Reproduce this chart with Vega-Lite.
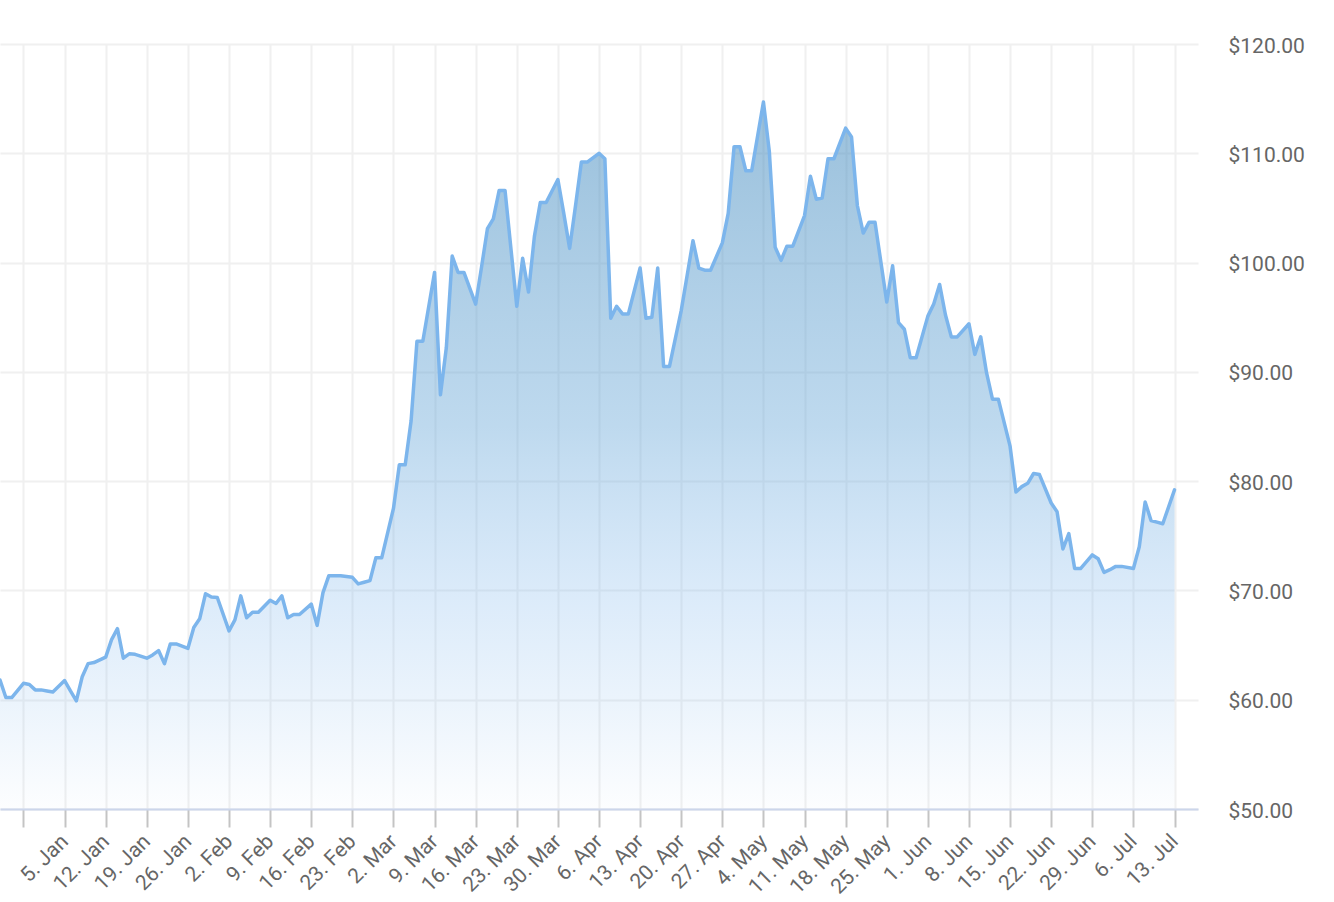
{
  "$schema": "https://vega.github.io/schema/vega-lite/v6.json",
  "width": 1198,
  "height": 765,
  "autosize": {"type": "none"},
  "padding": {"left": 0, "top": 44, "right": 136, "bottom": 93},
  "background": "#ffffff",
  "data": {
    "values": [
      {"date": "2025-12-25", "price": 61.8},
      {"date": "2025-12-26", "price": 60.2},
      {"date": "2025-12-27", "price": 60.2},
      {"date": "2025-12-29", "price": 61.5},
      {"date": "2025-12-30", "price": 61.4},
      {"date": "2025-12-31", "price": 60.9},
      {"date": "2026-01-01", "price": 60.9},
      {"date": "2026-01-02", "price": 60.8},
      {"date": "2026-01-03", "price": 60.7},
      {"date": "2026-01-05", "price": 61.75},
      {"date": "2026-01-06", "price": 60.8},
      {"date": "2026-01-07", "price": 59.9},
      {"date": "2026-01-08", "price": 62.1},
      {"date": "2026-01-09", "price": 63.3},
      {"date": "2026-01-10", "price": 63.4},
      {"date": "2026-01-12", "price": 63.9},
      {"date": "2026-01-13", "price": 65.5},
      {"date": "2026-01-14", "price": 66.5},
      {"date": "2026-01-15", "price": 63.8},
      {"date": "2026-01-16", "price": 64.2},
      {"date": "2026-01-17", "price": 64.15},
      {"date": "2026-01-19", "price": 63.8},
      {"date": "2026-01-20", "price": 64.1},
      {"date": "2026-01-21", "price": 64.5},
      {"date": "2026-01-22", "price": 63.3},
      {"date": "2026-01-23", "price": 65.1},
      {"date": "2026-01-24", "price": 65.1},
      {"date": "2026-01-26", "price": 64.7},
      {"date": "2026-01-27", "price": 66.6},
      {"date": "2026-01-28", "price": 67.4},
      {"date": "2026-01-29", "price": 69.7},
      {"date": "2026-01-30", "price": 69.4},
      {"date": "2026-01-31", "price": 69.35},
      {"date": "2026-02-02", "price": 66.3},
      {"date": "2026-02-03", "price": 67.3},
      {"date": "2026-02-04", "price": 69.5},
      {"date": "2026-02-05", "price": 67.5},
      {"date": "2026-02-06", "price": 68.0},
      {"date": "2026-02-07", "price": 68.0},
      {"date": "2026-02-09", "price": 69.1},
      {"date": "2026-02-10", "price": 68.8},
      {"date": "2026-02-11", "price": 69.5},
      {"date": "2026-02-12", "price": 67.5},
      {"date": "2026-02-13", "price": 67.8},
      {"date": "2026-02-14", "price": 67.8},
      {"date": "2026-02-16", "price": 68.75},
      {"date": "2026-02-17", "price": 66.8},
      {"date": "2026-02-18", "price": 69.8},
      {"date": "2026-02-19", "price": 71.35},
      {"date": "2026-02-20", "price": 71.35},
      {"date": "2026-02-21", "price": 71.35},
      {"date": "2026-02-23", "price": 71.2},
      {"date": "2026-02-24", "price": 70.6},
      {"date": "2026-02-25", "price": 70.75},
      {"date": "2026-02-26", "price": 70.9},
      {"date": "2026-02-27", "price": 72.98},
      {"date": "2026-02-28", "price": 72.98},
      {"date": "2026-03-02", "price": 77.5},
      {"date": "2026-03-03", "price": 81.5},
      {"date": "2026-03-04", "price": 81.5},
      {"date": "2026-03-05", "price": 85.5},
      {"date": "2026-03-06", "price": 92.8},
      {"date": "2026-03-07", "price": 92.8},
      {"date": "2026-03-09", "price": 99.1},
      {"date": "2026-03-10", "price": 87.9},
      {"date": "2026-03-11", "price": 92.2},
      {"date": "2026-03-12", "price": 100.6},
      {"date": "2026-03-13", "price": 99.1},
      {"date": "2026-03-14", "price": 99.1},
      {"date": "2026-03-16", "price": 96.2},
      {"date": "2026-03-17", "price": 99.6},
      {"date": "2026-03-18", "price": 103.1},
      {"date": "2026-03-19", "price": 104.0},
      {"date": "2026-03-20", "price": 106.6},
      {"date": "2026-03-21", "price": 106.6},
      {"date": "2026-03-23", "price": 96.0},
      {"date": "2026-03-24", "price": 100.4},
      {"date": "2026-03-25", "price": 97.3},
      {"date": "2026-03-26", "price": 102.4},
      {"date": "2026-03-27", "price": 105.5},
      {"date": "2026-03-28", "price": 105.5},
      {"date": "2026-03-30", "price": 107.6},
      {"date": "2026-03-31", "price": 104.5},
      {"date": "2026-04-01", "price": 101.3},
      {"date": "2026-04-02", "price": 105.2},
      {"date": "2026-04-03", "price": 109.2},
      {"date": "2026-04-04", "price": 109.2},
      {"date": "2026-04-06", "price": 110.0},
      {"date": "2026-04-07", "price": 109.5},
      {"date": "2026-04-08", "price": 94.9},
      {"date": "2026-04-09", "price": 96.0},
      {"date": "2026-04-10", "price": 95.3},
      {"date": "2026-04-11", "price": 95.3},
      {"date": "2026-04-13", "price": 99.5},
      {"date": "2026-04-14", "price": 94.9},
      {"date": "2026-04-15", "price": 95.0},
      {"date": "2026-04-16", "price": 99.5},
      {"date": "2026-04-17", "price": 90.5},
      {"date": "2026-04-18", "price": 90.5},
      {"date": "2026-04-20", "price": 95.6},
      {"date": "2026-04-21", "price": 98.8},
      {"date": "2026-04-22", "price": 102.0},
      {"date": "2026-04-23", "price": 99.5},
      {"date": "2026-04-24", "price": 99.3},
      {"date": "2026-04-25", "price": 99.3},
      {"date": "2026-04-27", "price": 101.8},
      {"date": "2026-04-28", "price": 104.5},
      {"date": "2026-04-29", "price": 110.6},
      {"date": "2026-04-30", "price": 110.6},
      {"date": "2026-05-01", "price": 108.4},
      {"date": "2026-05-02", "price": 108.4},
      {"date": "2026-05-04", "price": 114.7},
      {"date": "2026-05-05", "price": 110.2},
      {"date": "2026-05-06", "price": 101.4},
      {"date": "2026-05-07", "price": 100.2},
      {"date": "2026-05-08", "price": 101.5},
      {"date": "2026-05-09", "price": 101.5},
      {"date": "2026-05-11", "price": 104.3},
      {"date": "2026-05-12", "price": 107.9},
      {"date": "2026-05-13", "price": 105.8},
      {"date": "2026-05-14", "price": 105.9},
      {"date": "2026-05-15", "price": 109.5},
      {"date": "2026-05-16", "price": 109.5},
      {"date": "2026-05-18", "price": 112.3},
      {"date": "2026-05-19", "price": 111.5},
      {"date": "2026-05-20", "price": 105.2},
      {"date": "2026-05-21", "price": 102.7},
      {"date": "2026-05-22", "price": 103.7},
      {"date": "2026-05-23", "price": 103.7},
      {"date": "2026-05-25", "price": 96.4},
      {"date": "2026-05-26", "price": 99.7},
      {"date": "2026-05-27", "price": 94.5},
      {"date": "2026-05-28", "price": 93.9},
      {"date": "2026-05-29", "price": 91.3},
      {"date": "2026-05-30", "price": 91.3},
      {"date": "2026-06-01", "price": 95.1},
      {"date": "2026-06-02", "price": 96.2},
      {"date": "2026-06-03", "price": 98.0},
      {"date": "2026-06-04", "price": 95.2},
      {"date": "2026-06-05", "price": 93.2},
      {"date": "2026-06-06", "price": 93.2},
      {"date": "2026-06-08", "price": 94.4},
      {"date": "2026-06-09", "price": 91.6},
      {"date": "2026-06-10", "price": 93.2},
      {"date": "2026-06-11", "price": 89.9},
      {"date": "2026-06-12", "price": 87.5},
      {"date": "2026-06-13", "price": 87.5},
      {"date": "2026-06-15", "price": 83.2},
      {"date": "2026-06-16", "price": 79.0},
      {"date": "2026-06-17", "price": 79.5},
      {"date": "2026-06-18", "price": 79.8},
      {"date": "2026-06-19", "price": 80.7},
      {"date": "2026-06-20", "price": 80.6},
      {"date": "2026-06-22", "price": 78.0},
      {"date": "2026-06-23", "price": 77.2},
      {"date": "2026-06-24", "price": 73.8},
      {"date": "2026-06-25", "price": 75.2},
      {"date": "2026-06-26", "price": 72.0},
      {"date": "2026-06-27", "price": 72.0},
      {"date": "2026-06-29", "price": 73.25},
      {"date": "2026-06-30", "price": 72.9},
      {"date": "2026-07-01", "price": 71.65},
      {"date": "2026-07-02", "price": 71.9},
      {"date": "2026-07-03", "price": 72.2},
      {"date": "2026-07-04", "price": 72.2},
      {"date": "2026-07-06", "price": 72.0},
      {"date": "2026-07-07", "price": 74.0},
      {"date": "2026-07-08", "price": 78.1},
      {"date": "2026-07-09", "price": 76.4},
      {"date": "2026-07-10", "price": 76.25},
      {"date": "2026-07-11", "price": 76.1},
      {"date": "2026-07-13", "price": 79.2}
    ]
  },
  "encoding": {
    "x": {
      "field": "date",
      "type": "temporal",
      "title": null,
      "scale": {
        "type": "utc",
        "domain": [
          {"year": 2025, "month": 12, "date": 25, "utc": true},
          {"year": 2026, "month": 7, "date": 17, "utc": true}
        ],
        "nice": false
      },
      "axis": {
        "values": [
          {"year": 2025, "month": 12, "date": 29, "utc": true},
          {"year": 2026, "month": 1, "date": 5, "utc": true},
          {"year": 2026, "month": 1, "date": 12, "utc": true},
          {"year": 2026, "month": 1, "date": 19, "utc": true},
          {"year": 2026, "month": 1, "date": 26, "utc": true},
          {"year": 2026, "month": 2, "date": 2, "utc": true},
          {"year": 2026, "month": 2, "date": 9, "utc": true},
          {"year": 2026, "month": 2, "date": 16, "utc": true},
          {"year": 2026, "month": 2, "date": 23, "utc": true},
          {"year": 2026, "month": 3, "date": 2, "utc": true},
          {"year": 2026, "month": 3, "date": 9, "utc": true},
          {"year": 2026, "month": 3, "date": 16, "utc": true},
          {"year": 2026, "month": 3, "date": 23, "utc": true},
          {"year": 2026, "month": 3, "date": 30, "utc": true},
          {"year": 2026, "month": 4, "date": 6, "utc": true},
          {"year": 2026, "month": 4, "date": 13, "utc": true},
          {"year": 2026, "month": 4, "date": 20, "utc": true},
          {"year": 2026, "month": 4, "date": 27, "utc": true},
          {"year": 2026, "month": 5, "date": 4, "utc": true},
          {"year": 2026, "month": 5, "date": 11, "utc": true},
          {"year": 2026, "month": 5, "date": 18, "utc": true},
          {"year": 2026, "month": 5, "date": 25, "utc": true},
          {"year": 2026, "month": 6, "date": 1, "utc": true},
          {"year": 2026, "month": 6, "date": 8, "utc": true},
          {"year": 2026, "month": 6, "date": 15, "utc": true},
          {"year": 2026, "month": 6, "date": 22, "utc": true},
          {"year": 2026, "month": 6, "date": 29, "utc": true},
          {"year": 2026, "month": 7, "date": 6, "utc": true},
          {"year": 2026, "month": 7, "date": 13, "utc": true}
        ],
        "format": "%-d. %b",
        "labelExpr": "datum.value < utc(2026, 0, 1) ? '' : datum.label",
        "labelAngle": -45,
        "labelAlign": "right",
        "labelBaseline": "middle",
        "labelPadding": 11,
        "labelOverlap": false,
        "labelFlush": false,
        "labelBound": false,
        "tickSize": 18,
        "tickWidth": 2,
        "tickColor": "#c4c4c4",
        "domainColor": "#ccd6eb",
        "domainWidth": 2,
        "grid": true,
        "gridColor": "#f0f0f0",
        "gridWidth": 2
      }
    },
    "y": {
      "field": "price",
      "type": "quantitative",
      "title": null,
      "scale": {"domain": [50, 120], "nice": false, "zero": false},
      "axis": {
        "orient": "right",
        "values": [50, 60, 70, 80, 90, 100, 110, 120],
        "format": "$.2f",
        "domain": false,
        "ticks": false,
        "labelAlign": "left",
        "labelPadding": 30,
        "labelOffset": 2,
        "grid": true,
        "gridColor": "#f0f0f0",
        "gridWidth": 2
      }
    }
  },
  "layer": [
    {
      "mark": {
        "type": "area",
        "color": {
          "gradient": "linear",
          "x1": 0, "y1": 0, "x2": 0, "y2": 1,
          "stops": [
            {"offset": 0, "color": "rgba(70,140,190,0.55)"},
            {"offset": 0.46, "color": "rgba(100,165,215,0.42)"},
            {"offset": 0.7, "color": "rgba(124,181,236,0.27)"},
            {"offset": 0.85, "color": "rgba(124,181,236,0.15)"},
            {"offset": 1, "color": "rgba(124,181,236,0.02)"}
          ]
        }
      },
      "encoding": {
        "y2": {"datum": 50}
      }
    },
    {
      "mark": {
        "type": "line",
        "color": "#7cb5ec",
        "strokeWidth": 3.5,
        "strokeJoin": "round",
        "strokeCap": "round"
      }
    }
  ],
  "config": {
    "font": "Roboto",
    "view": {"stroke": null},
    "axis": {
      "labelFont": "Roboto",
      "labelFontSize": 21,
      "labelColor": "#666666"
    }
  }
}
